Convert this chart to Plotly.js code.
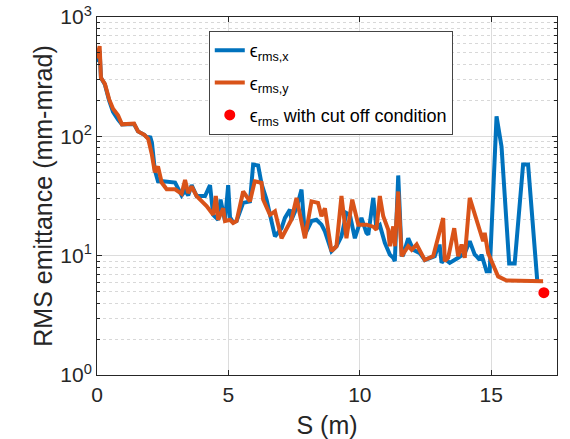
<!DOCTYPE html>
<html>
<head>
<meta charset="utf-8">
<script src="https://cdn.plot.ly/plotly-3.0.1.min.js"></script>
<style>html,body{margin:0;padding:0;background:#fff;}#chart{width:570px;height:439px;}</style>
</head>
<body>
<div id="chart"></div>
<script>
// S positions (m) and RMS emittance values (mm-mrad)
var sX = [0, 0.1, 0.15, 0.3, 0.46, 0.61, 0.8, 0.95, 1.41, 1.56, 1.8, 1.95, 2.02, 2.09, 2.2, 2.32, 2.51, 2.97, 3.22, 3.35, 3.47, 3.6, 3.79, 4.11, 4.3, 4.42, 4.61, 4.7, 4.87, 4.99, 5.06, 5.18, 5.31, 5.56, 5.82, 5.94, 6.13, 6.26, 6.45, 6.64, 6.77, 7.02, 7.15, 7.34, 7.4, 7.59, 7.78, 7.91, 8.16, 8.35, 8.54, 8.67, 8.92, 9.11, 9.3, 9.49, 9.62, 9.81, 10.06, 10.25, 10.32, 10.51, 10.63, 10.76, 10.95, 11.14, 11.27, 11.33, 11.46, 11.59, 11.65, 11.84, 12.03, 12.28, 12.47, 12.85, 12.98, 13.04, 13.11, 13.23, 13.42, 13.74, 13.99, 14.18, 14.37, 14.44, 14.56, 14.63, 14.75, 14.82, 14.94, 15.2, 15.39, 15.68, 15.89, 16.21, 16.4, 16.75];
var emitX = [420, 520, 310, 272, 200, 160, 138, 126, 127, 110, 103, 96, 100, 88, 52, 42, 42, 41, 32, 35, 32, 39, 31.6, 31.6, 39, 22, 20, 29.5, 19.5, 39, 21, 19, 19.5, 27.7, 28.5, 58, 57, 40, 29.5, 18.8, 14.5, 17, 20.7, 24.3, 20, 25, 35.8, 15, 19.5, 20, 18.2, 16, 10.9, 12, 14.5, 22.8, 22, 14, 20.7, 15.5, 15, 30.5, 17, 18, 12.8, 10.2, 9.6, 9.0, 47, 10.2, 10.2, 14, 11.2, 10.5, 9.2, 9.9, 12, 12, 8.7, 9.4, 8.7, 9.6, 10.5, 13.2, 10.2, 9.9, 9.2, 10.2, 8.2, 7.4, 7.4, 147, 82, 8.6, 8.6, 58, 58, 6.1];

var sY = [0, 0.1, 0.15, 0.3, 0.46, 0.61, 0.8, 0.95, 1.41, 1.56, 1.8, 1.95, 2.09, 2.2, 2.32, 2.46, 2.65, 2.97, 3.22, 3.35, 3.47, 3.6, 3.79, 4.11, 4.17, 4.42, 4.52, 4.61, 4.8, 4.87, 5.06, 5.18, 5.31, 5.56, 5.82, 6.0, 6.26, 6.32, 6.58, 6.77, 7.02, 7.4, 7.59, 7.91, 8.16, 8.41, 8.54, 8.67, 8.92, 9.11, 9.3, 9.49, 9.71, 9.94, 10.06, 10.25, 10.51, 10.63, 10.76, 10.89, 11.08, 11.14, 11.27, 11.33, 11.46, 11.59, 11.84, 11.97, 12.16, 12.47, 12.79, 13.17, 13.23, 13.36, 13.59, 13.74, 13.87, 13.99, 14.18, 14.5, 14.63, 14.69, 14.75, 14.88, 15.26, 15.58, 16.97];
var emitY = [450, 570, 310, 275, 205, 170, 150, 126, 128, 110, 103, 95, 70, 50, 56, 41, 36, 36, 33, 43, 33.5, 38, 31.6, 26.8, 26, 22, 31.6, 20, 25, 19.5, 20, 18.8, 19.5, 34.5, 28.5, 42, 40.7, 29.5, 22, 23.5, 14, 20.1, 30.5, 14, 28.5, 27.7, 21.4, 25, 10.9, 12, 31.6, 14, 29.5, 18.2, 18.2, 18.2, 17.5, 16.5, 31.6, 21.4, 16.5, 12, 17.6, 12, 34.5, 9.9, 12, 11.2, 12.4, 9.2, 9.9, 20.7, 9.0, 9.6, 17, 9.9, 12.4, 9.6, 30.5, 18.2, 15.5, 13.2, 15.5, 10.5, 6.7, 6.2, 6.1];

var sCut = [17.0];
var emitCut = [4.9];

var xTicks = [0, 5, 10, 15];
var yTicks = [1, 10, 100, 1000];
var yTickText = ['10<sup>0</sup>', '10<sup>1</sup>', '10<sup>2</sup>', '10<sup>3</sup>'];
var names = ['\u03f5<sub>rms,x</sub>', '\u03f5<sub>rms,y</sub>', '\u03f5<sub>rms</sub> with cut off condition'];

var minorVals = [];
[1, 10, 100].forEach(function (d) { for (var k = 2; k <= 9; k++) minorVals.push(k * d); });

var font = '"Liberation Sans", Arial, Helvetica, sans-serif';
var dark = '#262626';

var traces = [
  {x: sX, y: emitX, type: 'scatter', mode: 'lines', name: names[0], legendgroup: 'a',
   line: {color: '#0072BD', width: 4}},
  {x: sY, y: emitY, type: 'scatter', mode: 'lines', name: names[1], legendgroup: 'b',
   line: {color: '#D95319', width: 4}},
  {x: sCut, y: emitCut, type: 'scatter', mode: 'markers', name: names[2], legendgroup: 'c',
   marker: {color: '#FF0000', size: 11}}
];

var layout = {
  width: 570, height: 439,
  margin: {l: 97, r: 13, t: 17, b: 64},
  paper_bgcolor: '#fff', plot_bgcolor: '#fff',
  font: {family: font, color: dark, size: 21},
  showlegend: true,
  legend: {x: 0.243, y: 0.961, xanchor: 'left', yanchor: 'top',
           bgcolor: '#fff', bordercolor: '#444', borderwidth: 1,
           tracegroupgap: 6, itemwidth: 30,
           font: {family: font, size: 18, color: '#000'}},
  xaxis: {range: [0, 17.5], tickmode: 'array', tickvals: xTicks,
          ticks: 'inside', ticklen: 5, tickcolor: dark,
          showline: true, linecolor: dark, linewidth: 1, mirror: 'ticks',
          showgrid: true, gridcolor: '#dcdcdc', gridwidth: 1, zeroline: false,
          ticklabelstandoff: 1,
          tickfont: {size: 21, color: dark},
          title: {text: 'S (m)', font: {size: 25, color: dark}, standoff: 12}},
  yaxis: {type: 'log', range: [0, 3], tickmode: 'array', tickvals: yTicks, ticktext: yTickText,
          ticks: 'inside', ticklen: 5, tickcolor: dark,
          showline: true, linecolor: dark, linewidth: 1, mirror: 'ticks',
          showgrid: true, gridcolor: '#dcdcdc', gridwidth: 1, zeroline: false,
          tickfont: {size: 21, color: dark},
          minor: {tickmode: 'array', tickvals: minorVals, ticks: 'inside', ticklen: 3, tickcolor: dark,
                  showgrid: true, griddash: 'dot', gridcolor: '#d8d8d8', gridwidth: 1},
          title: {text: 'RMS emittance (mm-mrad)', font: {size: 25, color: dark}, standoff: 0}}
};

Plotly.newPlot('chart', traces, layout, {displayModeBar: false, staticPlot: true});
</script>
</body>
</html>
